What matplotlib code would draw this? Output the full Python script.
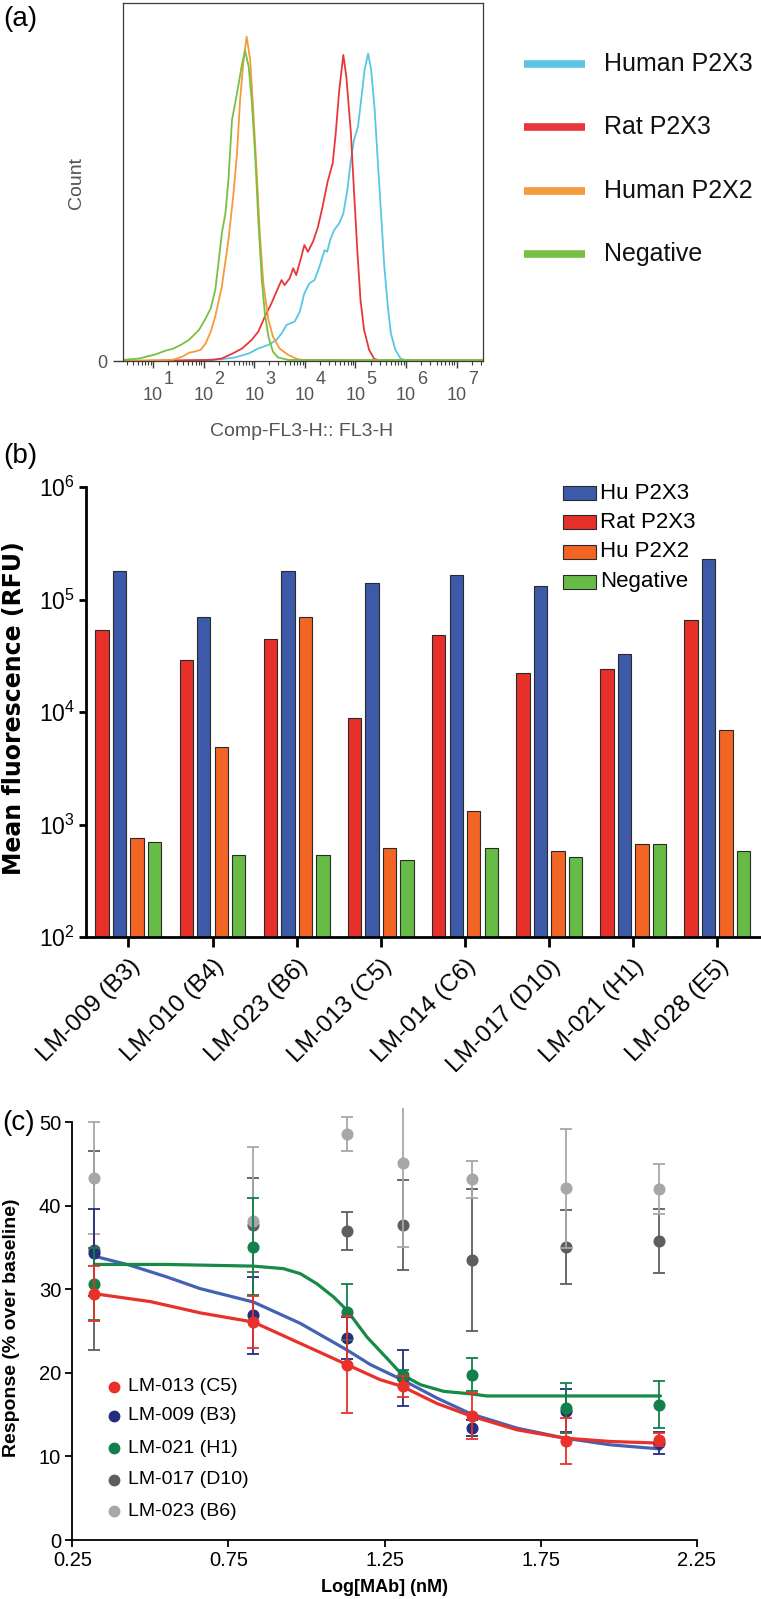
import numpy as np
import matplotlib
matplotlib.use('Agg')
import matplotlib.pyplot as plt
from matplotlib import transforms
from matplotlib.lines import Line2D
from matplotlib.patches import Rectangle
from matplotlib.ticker import LogLocator, NullFormatter, NullLocator, FixedLocator

plt.rcParams['font.family'] = ['Liberation Sans', 'DejaVu Sans']
plt.rcParams['mathtext.fontset'] = 'dejavusans'

# ---------------- Panel (a): flow cytometry histograms ----------------
# x = log10(FL3-H), y = count (% of axis height)
hist_names = ['Human P2X3', 'Rat P2X3', 'Human P2X2', 'Negative']
hist_colors = ['#5BC6E3', '#E8373A', '#F59B3A', '#78C043']

human_p2x3_log = [0.41, 1.58, 2.04, 2.36, 2.62, 2.89, 3.08, 3.28, 3.44, 3.54, 3.64, 3.80, 3.90,
                  3.99, 4.09, 4.19, 4.29, 4.39, 4.44, 4.50, 4.58, 4.68, 4.76, 4.84, 4.91, 4.97,
                  5.05, 5.12, 5.18, 5.25, 5.31, 5.38, 5.44, 5.51, 5.57, 5.64, 5.70, 5.79, 5.89,
                  6.02, 7.52]
human_p2x3_cnt = [0.0, 0.1, 0.3, 0.5, 1.0, 2.1, 3.5, 4.5, 5.9, 7.7, 10.1, 11.0, 13.8,
                  18.9, 21.7, 22.6, 26.4, 31.0, 30.5, 33.8, 36.6, 38.5, 41.2, 47.8, 56.1, 61.7,
                  65.5, 73.8, 81.3, 85.9, 81.3, 70.1, 56.1, 40.3, 26.4, 15.2, 7.7, 3.1, 0.7,
                  0.1, 0.0]

rat_p2x3_log = [0.41, 2.17, 2.36, 2.56, 2.76, 2.95, 3.08, 3.21, 3.34, 3.44, 3.54, 3.60, 3.70,
                3.77, 3.83, 3.93, 3.99, 4.06, 4.16, 4.26, 4.35, 4.45, 4.55, 4.61, 4.68, 4.76,
                4.82, 4.91, 4.97, 5.04, 5.10, 5.17, 5.27, 5.37, 5.50, 7.52]
rat_p2x3_cnt = [0.0, 0.3, 0.7, 2.0, 3.5, 5.9, 8.2, 12.4, 16.1, 19.4, 22.6, 21.2, 23.1,
                25.9, 24.0, 29.1, 32.4, 30.5, 33.3, 37.5, 43.1, 50.1, 55.2, 63.6, 75.7, 85.5,
                79.4, 63.6, 47.8, 30.1, 17.0, 8.7, 3.1, 0.6, 0.1, 0.0]

human_p2x2_log = [0.41, 1.38, 1.58, 1.71, 1.81, 1.94, 2.04, 2.14, 2.23, 2.36, 2.49, 2.59, 2.66,
                  2.72, 2.79, 2.85, 2.92, 2.98, 3.05, 3.11, 3.18, 3.28, 3.37, 3.50, 3.67, 3.86,
                  4.06, 7.52]
human_p2x2_cnt = [0.0, 0.3, 1.2, 2.3, 2.6, 3.1, 4.9, 8.2, 12.4, 20.8, 33.8, 46.8, 58.0,
                  72.9, 84.1, 90.6, 84.1, 70.1, 52.4, 35.7, 21.7, 11.5, 6.8, 3.5, 1.7, 0.5,
                  0.1, 0.0]

negative_log = [0.41, 0.73, 1.06, 1.25, 1.39, 1.55, 1.71, 1.91, 2.04, 2.14, 2.23, 2.30, 2.36,
                2.43, 2.49, 2.56, 2.66, 2.76, 2.82, 2.89, 2.95, 3.02, 3.08, 3.15, 3.21, 3.28,
                3.37, 3.47, 3.67, 7.52]
negative_cnt = [0.3, 0.7, 1.9, 2.9, 3.4, 4.5, 5.9, 8.7, 11.9, 14.7, 19.8, 28.2, 35.7,
                41.2, 50.6, 67.3, 74.8, 83.1, 86.7, 82.2, 72.9, 57.1, 39.4, 22.6, 13.3, 6.8,
                2.6, 1.0, 0.3, 0.3]

decades = [1, 2, 3, 4, 5, 6, 7]

# ---------------- Panel (b): mean fluorescence bars ----------------
clones = ['LM-009 (B3)', 'LM-010 (B4)', 'LM-023 (B6)', 'LM-013 (C5)',
          'LM-014 (C6)', 'LM-017 (D10)', 'LM-021 (H1)', 'LM-028 (E5)']
rat_p2x3 = [54000, 29200, 45000, 8830, 48200, 22400, 24100, 65100]
hu_p2x3 = [180000, 70100, 180000, 139000, 166000, 131000, 32600, 229000]
hu_p2x2 = [751, 4930, 70100, 621, 1328, 584, 665, 6850]
negative = [703, 541, 541, 483, 621, 513, 665, 584]
bar_series = [('Rat P2X3', rat_p2x3, '#E8302A'),
              ('Hu P2X3', hu_p2x3, '#3D5AA8'),
              ('Hu P2X2', hu_p2x2, '#F26524'),
              ('Negative', negative, '#67BC47')]
bar_legend_order = ['Hu P2X3', 'Rat P2X3', 'Hu P2X2', 'Negative']

# ---------------- Panel (c): concentration response ----------------
log_mab = [0.32, 0.83, 1.13, 1.31, 1.53, 1.83, 2.13]
resp = {
    'LM-017 (D10)': ([34.7, 37.7, 37.0, 37.7, 33.5, 35.1, 35.8],
                     [11.9, 5.6, 2.3, 5.4, 8.5, 4.4, 3.8]),
    'LM-023 (B6)': ([43.3, 38.2, 48.6, 45.1, 43.2, 42.1, 42.0],
                    [6.7, 8.9, 2.0, 10.0, 2.2, 7.1, 3.0]),
    'LM-009 (B3)': ([34.4, 26.9, 24.2, 19.4, 13.4, 15.5, 11.6],
                    [5.2, 4.6, 2.5, 3.4, 1.0, 2.6, 1.3]),
    'LM-021 (H1)': ([30.7, 35.1, 27.3, 19.8, 19.8, 15.85, 16.2],
                    [4.3, 5.8, 3.4, 0.6, 2.0, 3.0, 2.8]),
    'LM-013 (C5)': ([29.5, 26.1, 21.0, 18.4, 14.85, 11.85, 12.0],
                    [3.3, 3.1, 5.8, 1.3, 2.7, 2.8, 0.8]),
}
resp_colors = {'LM-013 (C5)': '#E8312A', 'LM-009 (B3)': '#262C7E',
               'LM-021 (H1)': '#12804A', 'LM-017 (D10)': '#5E5E5E',
               'LM-023 (B6)': '#A6A7A9'}
resp_legend_order = ['LM-013 (C5)', 'LM-009 (B3)', 'LM-021 (H1)', 'LM-017 (D10)', 'LM-023 (B6)']

fit_c5_x = [0.32, 0.50, 0.66, 0.83, 0.98, 1.13, 1.236, 1.306, 1.418, 1.527, 1.674, 1.827, 1.973, 2.134]
fit_c5_y = [29.5, 28.55, 27.2, 26.1, 23.55, 21.0, 19.2, 18.4, 16.35, 14.85, 13.2, 12.2, 11.8, 11.6]
fit_b3_x = [0.32, 0.435, 0.553, 0.66, 0.83, 0.98, 1.13, 1.205, 1.306, 1.418, 1.527, 1.674, 1.827, 1.973, 2.134]
fit_b3_y = [34.0, 32.9, 31.5, 30.1, 28.5, 25.95, 22.75, 21.0, 19.2, 17.0, 15.1, 13.4, 12.2, 11.4, 10.9]
fit_h1_x = [0.32, 0.55, 0.83, 0.926, 0.98, 1.033, 1.087, 1.13, 1.194, 1.258, 1.306, 1.365, 1.44, 1.527, 1.578, 2.134]
fit_h1_y = [33.0, 33.0, 32.8, 32.5, 31.9, 30.7, 29.1, 27.5, 24.3, 21.75, 19.8, 18.6, 17.8, 17.5, 17.25, 17.25]
fit_lines = [(fit_b3_x, fit_b3_y, '#4462B3'),
             (fit_h1_x, fit_h1_y, '#178A48'),
             (fit_c5_x, fit_c5_y, '#E8312A')]

# ======================================================================
W, H = 761, 1599
fig = plt.figure(figsize=(W / 100, H / 100), dpi=100)


def fx(x):
    return x / W


def fy(y):
    return 1 - y / H


def axrect(l, t, r, b):
    return [l / W, 1 - b / H, (r - l) / W, (b - t) / H]


# ---------------- (a) ----------------
ax_a = fig.add_axes(axrect(123, 3, 483, 361))
ax_a.set_xscale('log')
for lx, cnt, col in [(human_p2x3_log, human_p2x3_cnt, hist_colors[0]),
                     (rat_p2x3_log, rat_p2x3_cnt, hist_colors[1]),
                     (human_p2x2_log, human_p2x2_cnt, hist_colors[2]),
                     (negative_log, negative_cnt, hist_colors[3])]:
    ax_a.plot(10 ** np.array(lx), cnt, color=col, lw=1.3, solid_joinstyle='round')
ax_a.set_xlim(10 ** 0.407, 10 ** 7.52)
ax_a.set_ylim(0, 100)
for s in ax_a.spines.values():
    s.set_color('#3a3a3a')
    s.set_linewidth(0.9)
ax_a.set_xticks([10.0 ** d for d in decades])
ax_a.set_xticklabels([''] * len(decades))
ax_a.xaxis.set_minor_locator(LogLocator(base=10, subs=np.arange(2, 10), numticks=30))
ax_a.xaxis.set_minor_formatter(NullFormatter())
ax_a.tick_params(axis='x', which='major', length=5, width=1.0, color='#3a3a3a')
ax_a.tick_params(axis='x', which='minor', length=2.6, width=0.8, color='#3a3a3a')
ax_a.set_yticks([0])
ax_a.set_yticklabels(['0'])
ax_a.tick_params(axis='y', length=7.2, width=1.0, color='#3a3a3a', pad=4,
                 labelsize=13, labelcolor='#555555')
blend = transforms.blended_transform_factory(ax_a.transData, ax_a.transAxes)
for d in decades:
    ax_a.text(10.0 ** d, -0.095, '10', transform=blend, ha='center', va='center',
              fontsize=13, color='#555555')
    ax_a.text(10.0 ** d, -0.052, str(d),
              transform=transforms.offset_copy(blend, fig=fig, x=16, y=0, units='dots'),
              ha='center', va='center', fontsize=13, color='#555555')
ax_a.set_xlabel('Comp-FL3-H:: FL3-H', fontsize=14, color='#555555')
ax_a.xaxis.set_label_coords(0.497, -0.198)
ax_a.xaxis.label.set_va('center')
ax_a.set_ylabel('Count', fontsize=14, color='#555555')
ax_a.yaxis.set_label_coords(-0.128, 0.497)
ax_a.yaxis.label.set_va('center')

for i, (name, col) in enumerate(zip(hist_names, hist_colors)):
    yy = [64, 126.7, 190.5, 254][i]
    fig.add_artist(Line2D([fx(524), fx(585)], [fy(yy), fy(yy)], transform=fig.transFigure,
                          color=col, lw=5.5, solid_capstyle='butt'))
    fig.text(fx(604), fy(yy), name, ha='left', va='center', fontsize=18, color='#111111')

# ---------------- (b) ----------------
ax_b = fig.add_axes(axrect(86, 487, 761, 937))
xb = np.arange(len(clones))
pitch = 0.208
for k, (name, vals, col) in enumerate(bar_series):
    ax_b.bar(xb + (k - 1.5) * pitch, vals, width=0.159, color=col,
             edgecolor='#2a2a2a', linewidth=0.8, zorder=2)
ax_b.set_yscale('log')
ax_b.set_ylim(1e2, 1e6)
ax_b.set_xlim(-0.504, 7.518)
ax_b.yaxis.set_major_locator(FixedLocator([1e2, 1e3, 1e4, 1e5, 1e6]))
ax_b.yaxis.set_minor_locator(NullLocator())
for s in ['top', 'right']:
    ax_b.spines[s].set_visible(False)
for s in ['left', 'bottom']:
    ax_b.spines[s].set_linewidth(2.0)
ax_b.tick_params(axis='y', length=5, width=2, pad=3, labelsize=16.5)
ax_b.set_xticks(xb)
ax_b.set_xticklabels(clones, rotation=45, ha='right', va='top', rotation_mode='anchor',
                     fontsize=17.5)
ax_b.tick_params(axis='x', length=7, width=2, pad=6)
ax_b.set_ylabel('Mean fluorescence (RFU)', fontsize=17, fontweight='bold',
                family='DejaVu Sans')
ax_b.yaxis.set_label_coords(-0.107, 0.509)
ax_b.yaxis.label.set_va('center')

bar_col = {n: c for n, v, c in bar_series}
for i, name in enumerate(bar_legend_order):
    yy = [493.3, 522.3, 551.7, 581.7][i]
    fig.add_artist(Rectangle((fx(563), fy(yy + 7)), 33 / W, 14 / H, transform=fig.transFigure,
                             facecolor=bar_col[name], edgecolor='#2a2a2a', lw=0.8))
    fig.text(fx(600), fy(yy), name, ha='left', va='center', fontsize=16)

# ---------------- (c) ----------------
ax_c = fig.add_axes(axrect(72.3, 1108.3, 696.7, 1540))
for fxs, fys, col in fit_lines:
    ax_c.plot(fxs, fys, color=col, lw=2.3, zorder=2, solid_capstyle='round')
for z, name in enumerate(resp):
    m, e = resp[name]
    ax_c.errorbar(log_mab, m, yerr=e, fmt='o', color=resp_colors[name], ms=7.7,
                  capsize=4.3, elinewidth=1.3, capthick=1.3, zorder=3 + z)
ax_c.set_xlim(0.25, 2.25)
ax_c.set_ylim(0, 51.7)
ax_c.spines['left'].set_bounds(0, 50)
for s in ['top', 'right']:
    ax_c.spines[s].set_visible(False)
for s in ['left', 'bottom']:
    ax_c.spines[s].set_linewidth(1.3)
ax_c.set_xticks([0.25, 0.75, 1.25, 1.75, 2.25])
ax_c.set_xticklabels(['0.25', '0.75', '1.25', '1.75', '2.25'])
ax_c.set_yticks([0, 10, 20, 30, 40, 50])
ax_c.tick_params(length=5, width=1.3, labelsize=14.5, pad=3)
ax_c.set_xlabel('Log[MAb] (nM)', fontsize=13, fontweight='bold')
ax_c.xaxis.set_label_coords(0.5, -0.109)
ax_c.xaxis.label.set_va('center')
ax_c.set_ylabel('Response (% over baseline)', fontsize=14, fontweight='bold')
ax_c.yaxis.set_label_coords(-0.0966, 0.491)
ax_c.yaxis.label.set_va('center')

for i, name in enumerate(resp_legend_order):
    yy = [1386.7, 1416, 1448.3, 1480, 1511][i]
    fig.add_artist(Line2D([fx(114)], [fy(yy)], transform=fig.transFigure, marker='o',
                          ms=7.5, color=resp_colors[name], lw=0))
    fig.text(fx(128), fy(yy), name, ha='left', va='center', fontsize=14)

# ---------------- panel letters ----------------
fig.text(fx(20), fy(19), '(a)', ha='center', va='center', fontsize=20)
fig.text(fx(20), fy(456), '(b)', ha='center', va='center', fontsize=20)
fig.text(fx(18.5), fy(1123), '(c)', ha='center', va='center', fontsize=20)

fig.savefig('out.png', dpi=100)
